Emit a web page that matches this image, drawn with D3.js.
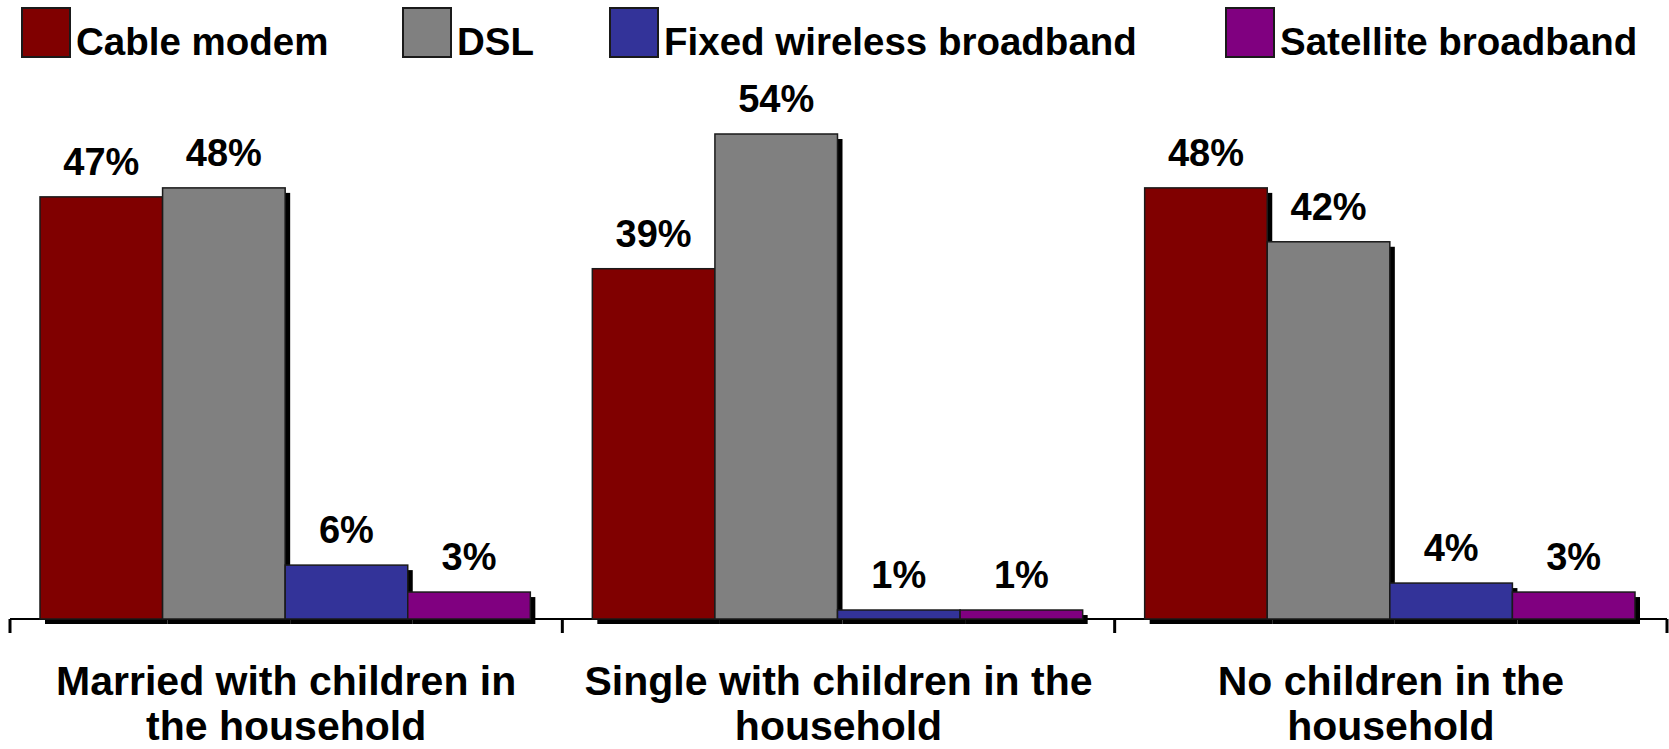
<!DOCTYPE html>
<html>
<head>
<meta charset="utf-8">
<script src="https://cdn.jsdelivr.net/npm/d3@7"></script>
<style>
html,body{margin:0;padding:0;background:#fff;}
svg{display:block;}
text{font-family:"Liberation Sans",Arial,sans-serif;font-weight:bold;fill:#000;}
</style>
</head>
<body>
<svg id="chart" width="1669" height="749"></svg>
<script>
const categories = [
  ["Married with children in", "the household"],
  ["Single with children in the", "household"],
  ["No children in the", "household"]
];
const categoryKeys = ["married", "single", "nochildren"];
const seriesNames = ["Cable modem", "DSL", "Fixed wireless broadband", "Satellite broadband"];
const seriesColors = ["#800000", "#808080", "#333399", "#800080"];
const cableValues = [47, 39, 48];
const dslValues = [48, 54, 42];
const fixedWirelessValues = [6, 1, 4];
const satelliteValues = [3, 1, 3];
const valueLists = [cableValues, dslValues, fixedWirelessValues, satelliteValues];

const svg = d3.select("#chart");
const baseY = 619;

const x0 = d3.scaleBand().domain(categoryKeys).range([10, 1667]).padding(0);
const bw = x0.bandwidth();
const x1 = d3.scaleBand().domain(seriesNames).range([30, bw - 32]).padding(0);
const y = d3.scaleLinear().domain([0, 54]).range([baseY, 134]);

const data = [];
categoryKeys.forEach((c, ci) => {
  seriesNames.forEach((s, si) => {
    data.push({cat: c, ci, series: s, si, value: valueLists[si][ci]});
  });
});

// Legend
const legendX = [22, 403, 610, 1226];
const lg = svg.append("g");
seriesNames.forEach((s, i) => {
  lg.append("rect").attr("x", legendX[i]).attr("y", 8).attr("width", 48).attr("height", 49)
    .attr("fill", seriesColors[i]).attr("stroke", "#1a1a1a").attr("stroke-width", 2);
  lg.append("text").attr("x", legendX[i] + 54).attr("y", 55)
    .attr("font-size", 38.5).text(s);
});

// Axis line
const axisG = svg.append("g");
axisG.append("line").attr("x1", 10).attr("x2", 1667).attr("y1", baseY).attr("y2", baseY)
  .attr("stroke", "#000").attr("stroke-width", 2);
const tickXs = categoryKeys.map(c => x0(c)).concat([x0.range()[1]]);
axisG.selectAll("line.tick").data(tickXs).join("line").attr("class", "tick")
  .attr("x1", d => d).attr("x2", d => d).attr("y1", baseY).attr("y2", 633)
  .attr("stroke", "#000").attr("stroke-width", 3);

// Shadows
const off = 5;
svg.append("g").selectAll("rect").data(data).join("rect")
  .attr("x", d => x0(d.cat) + x1(d.series) + off)
  .attr("y", d => y(d.value) + off)
  .attr("width", x1.bandwidth())
  .attr("height", d => baseY - y(d.value))
  .attr("fill", "#000");

// Bars
svg.append("g").selectAll("rect").data(data).join("rect")
  .attr("x", d => x0(d.cat) + x1(d.series))
  .attr("y", d => y(d.value))
  .attr("width", x1.bandwidth())
  .attr("height", d => baseY - y(d.value))
  .attr("fill", d => seriesColors[d.si])
  .attr("stroke", "#1a1a1a").attr("stroke-width", 1.5);

// Value labels
svg.append("g").selectAll("text").data(data).join("text")
  .attr("x", d => x0(d.cat) + x1(d.series) + x1.bandwidth() / 2)
  .attr("y", d => y(d.value) - 22)
  .attr("text-anchor", "middle").attr("font-size", 38)
  .text(d => d.value + "%");

// Category labels
const cg = svg.append("g");
categoryKeys.forEach((c, i) => {
  const t = cg.append("text").attr("x", x0(c) + bw / 2).attr("y", 695)
    .attr("text-anchor", "middle").attr("font-size", 41);
  categories[i].forEach((line, li) => {
    t.append("tspan").attr("x", x0(c) + bw / 2).attr("y", 695 + li * 45).text(line);
  });
});
</script>
</body>
</html>
